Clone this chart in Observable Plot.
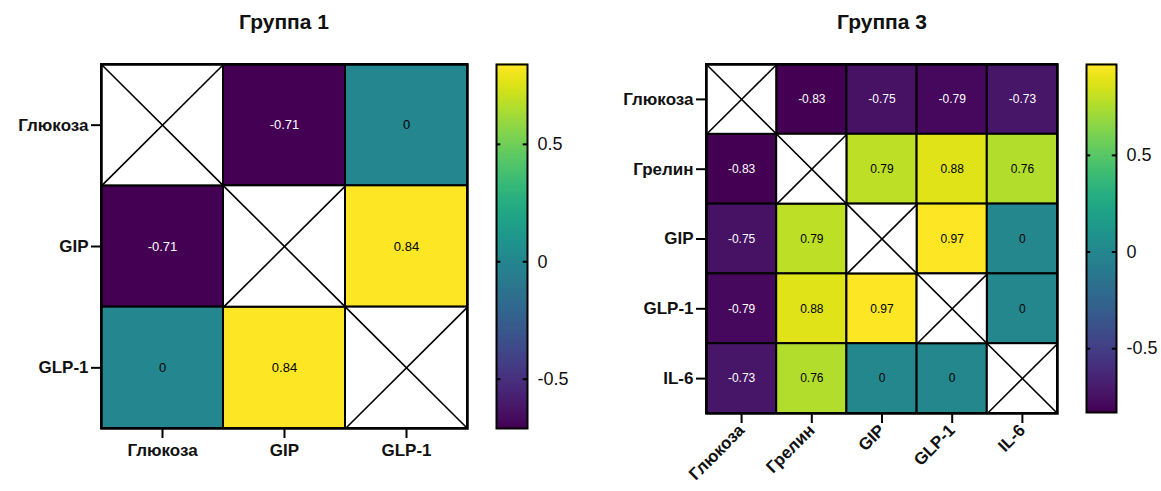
<!DOCTYPE html>
<html>
<head>
<meta charset="utf-8">
<script src="https://cdn.jsdelivr.net/npm/d3@7"></script>
<script src="https://cdn.jsdelivr.net/npm/@observablehq/plot@0.6"></script>
<style>
  html, body { margin: 0; padding: 0; background: #fff; overflow: hidden; }
  #root { position: relative; width: 1161px; height: 491px; font-family: "Liberation Sans", Arial, sans-serif; }
  .piece { position: absolute; top: 0; }
  .title { position: absolute; top: 10px; font-weight: bold; font-size: 21px; color: #111; transform: translateX(-50%); white-space: nowrap; }
  .heat g[aria-label="x-axis tick label"] text, .heat g[aria-label="y-axis tick label"] text { font-weight: bold; }
</style>
</head>
<body>
<div id="root"></div>
<script>
// ---- data ----
const group1Title = "Группа 1";
const group1Labels = ["Глюкоза", "GIP", "GLP-1"];
const group1Values = [
  [null, -0.71, 0],
  [-0.71, null, 0.84],
  [0, 0.84, null]
];
const group3Title = "Группа 3";
const group3Labels = ["Глюкоза", "Грелин", "GIP", "GLP-1", "IL-6"];
const group3Values = [
  [null, -0.83, -0.75, -0.79, -0.73],
  [-0.83, null, 0.79, 0.88, 0.76],
  [-0.75, 0.79, null, 0.97, 0],
  [-0.79, 0.88, 0.97, null, 0],
  [-0.73, 0.76, 0, 0, null]
];
const colorbarTicks = [-0.5, 0, 0.5];

const FONT = '"Liberation Sans", Arial, sans-serif';

function cellsOf(values) {
  const out = [];
  values.forEach((row, r) => row.forEach((v, c) => out.push({r, c, v})));
  return out;
}

function heatmap(labels, values, o) {
  const n = labels.length;
  const cells = cellsOf(values);
  const off = cells.filter(d => d.v != null);
  const diag = cells.filter(d => d.v == null);
  const dom = d3.extent(off, d => d.v);
  const ticks = d3.range(n).map(i => i + 0.5);
  const axisOpts = {
    label: null,
    tickFormat: d => labels[Math.floor(d)],
    tickSize: 10, strokeWidth: 2, fontSize: 17, fontWeight: "bold", fill: "#111"
  };
  return Plot.plot({
    width: o.width, height: o.height,
    marginLeft: o.ml, marginRight: o.mr, marginTop: o.mt, marginBottom: o.mb,
    style: {fontFamily: FONT, background: "transparent", overflow: "visible"},
    x: {type: "linear", domain: [0, n], axis: null, label: null},
    y: {type: "linear", domain: [0, n], reverse: true, axis: null, label: null},
    color: {type: "linear", scheme: "viridis", domain: dom},
    marks: [
      Plot.rect(off, {x1: "c", x2: d => d.c + 1, y1: "r", y2: d => d.r + 1, fill: "v", stroke: "black", strokeWidth: 2}),
      Plot.rect(diag, {x1: "c", x2: d => d.c + 1, y1: "r", y2: d => d.r + 1, fill: "white", stroke: "black", strokeWidth: 2}),
      Plot.link(diag, {x1: "c", y1: "r", x2: d => d.c + 1, y2: d => d.r + 1, stroke: "black", strokeWidth: 1.6}),
      Plot.link(diag, {x1: "c", y1: d => d.r + 1, x2: d => d.c + 1, y2: "r", stroke: "black", strokeWidth: 1.6}),
      Plot.text(off.filter(d => d.v < -0.5), {x: d => d.c + 0.5, y: d => d.r + 0.5, text: d => String(d.v), fill: "white", fontSize: o.fs}),
      Plot.text(off.filter(d => d.v >= -0.5), {x: d => d.c + 0.5, y: d => d.r + 0.5, text: d => String(d.v), fill: "black", fontSize: o.fs}),
      Plot.axisX(ticks, {...axisOpts, tickPadding: o.rotate ? 4 : 5, tickRotate: o.rotate || 0}),
      Plot.axisY(ticks, {...axisOpts, tickPadding: 3}),
      Plot.frame({stroke: "black", strokeWidth: 2.5})
    ]
  });
}

function colorbar(values, o) {
  const vals = values.flat().filter(v => v != null);
  const [lo, hi] = d3.extent(vals);
  const N = 200;
  const stops = d3.range(N).map(i => [lo + (hi - lo) * i / N, lo + (hi - lo) * (i + 1) / N]);
  return Plot.plot({
    width: o.barW + o.mr, height: o.height,
    marginLeft: 0, marginRight: o.mr, marginTop: o.mt, marginBottom: o.mb,
    style: {fontFamily: FONT, background: "transparent", overflow: "visible"},
    x: {domain: [0, 1], axis: null, label: null},
    y: {domain: [lo, hi], axis: null, label: null},
    color: {type: "linear", scheme: "viridis", domain: [lo, hi]},
    marks: [
      Plot.rect(stops, {x1: 0, x2: 1, y1: d => d[0], y2: d => d[1], fill: d => (d[0] + d[1]) / 2, insetTop: -0.6, insetBottom: -0.6}),
      Plot.ruleY(colorbarTicks, {x1: 0, x2: 0.14, stroke: "black", strokeWidth: 2}),
      Plot.ruleY(colorbarTicks, {x1: 0.86, x2: 1, stroke: "black", strokeWidth: 2}),
      Plot.axisY(colorbarTicks, {anchor: "right", label: null, tickSize: 0, tickPadding: 10, fontSize: 18, fill: "#111", tickFormat: d => String(d)}),
      Plot.frame({stroke: "black", strokeWidth: 2})
    ]
  });
}

const root = document.getElementById("root");
function place(el, left, cls) {
  const div = document.createElement("div");
  div.className = "piece " + (cls || "");
  div.style.left = left + "px";
  div.appendChild(el);
  root.appendChild(div);
}
function title(text, cx) {
  const t = document.createElement("div");
  t.className = "title";
  t.style.left = cx + "px";
  t.textContent = text;
  root.appendChild(t);
}

place(heatmap(group1Labels, group1Values, {width: 480, height: 491, ml: 101, mr: 13, mt: 64, mb: 63, fs: 13}), 0, "heat");
place(colorbar(group1Values, {barW: 31, mr: 60, height: 491, mt: 64, mb: 63}), 496);
place(heatmap(group3Labels, group3Values, {width: 470, height: 491, ml: 106, mr: 13, mt: 64, mb: 78, fs: 12, rotate: -45}), 600, "heat");
place(colorbar(group3Values, {barW: 30, mr: 45, height: 491, mt: 64, mb: 79}), 1086);
title(group1Title, 284);
title(group3Title, 882);
</script>
</body>
</html>
